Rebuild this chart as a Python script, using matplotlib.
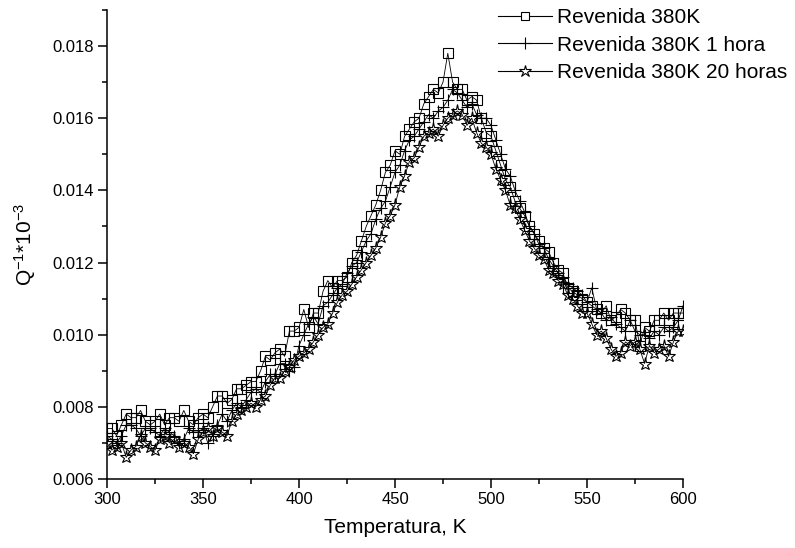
import matplotlib
matplotlib.use("Agg")
import matplotlib.pyplot as plt
from matplotlib.ticker import MultipleLocator, FormatStrFormatter
from matplotlib.lines import Line2D

plt.rcParams['font.family'] = ['Liberation Sans', 'DejaVu Sans']
plt.rcParams['mathtext.fontset'] = 'custom'
plt.rcParams['mathtext.rm'] = 'Liberation Sans'

temperature = [300, 302.5, 305, 307.5, 310, 312.5, 315, 317.5, 320, 322.5, 325, 327.5,
               330, 332.5, 335, 337.5, 340, 342.5, 345, 347.5, 350, 352.5, 355, 357.5,
               360, 362.5, 365, 367.5, 370, 372.5, 375, 377.5, 380, 382.5, 385, 387.5,
               390, 392.5, 395, 397.5, 400, 402.5, 405, 407.5, 410, 412.5, 415, 417.5,
               420, 422.5, 425, 427.5, 430, 432.5, 435, 437.5, 440, 442.5, 445, 447.5,
               450, 452.5, 455, 457.5, 460, 462.5, 465, 467.5, 470, 472.5, 475, 477.5,
               480, 482.5, 485, 487.5, 490, 492.5, 495, 497.5, 500, 502.5, 505, 507.5,
               510, 512.5, 515, 517.5, 520, 522.5, 525, 527.5, 530, 532.5, 535, 537.5,
               540, 542.5, 545, 547.5, 550, 552.5, 555, 557.5, 560, 562.5, 565, 567.5,
               570, 572.5, 575, 577.5, 580, 582.5, 585, 587.5, 590, 592.5, 595, 597.5, 600]

revenida_380K = [0.0074, 0.0074, 0.0072, 0.0075, 0.0078, 0.0077, 0.0077, 0.0079, 0.0076, 0.0075,
                 0.0076, 0.0078, 0.0075, 0.0077, 0.0077, 0.0076, 0.0079, 0.0076, 0.0075, 0.0077,
                 0.0078, 0.0077, 0.0080, 0.0083, 0.0083, 0.0081, 0.0082, 0.0085, 0.0085, 0.0086,
                 0.0087, 0.0087, 0.0090, 0.0094, 0.0093, 0.0095, 0.0096, 0.0094, 0.0101, 0.0101,
                 0.0102, 0.0107, 0.0102, 0.0106, 0.0106, 0.0112, 0.0115, 0.0113, 0.0115, 0.0115,
                 0.0116, 0.0120, 0.0122, 0.0126, 0.0130, 0.0133, 0.0136, 0.0140, 0.0145, 0.0147,
                 0.0151, 0.0150, 0.0155, 0.0157, 0.0159, 0.0160, 0.0164, 0.0166, 0.0168, 0.0167,
                 0.0170, 0.0178, 0.0170, 0.0168, 0.0168, 0.0165, 0.0166, 0.0165, 0.0160, 0.0156,
                 0.0155, 0.0151, 0.0147, 0.0143, 0.0141, 0.0137, 0.0135, 0.0133, 0.0130, 0.0128,
                 0.0126, 0.0124, 0.0123, 0.0120, 0.0118, 0.0117, 0.0113, 0.0112, 0.0111, 0.0110,
                 0.0109, 0.0108, 0.0107, 0.0106, 0.0108, 0.0104, 0.0105, 0.0107, 0.0106, 0.0104,
                 0.0104, 0.0097, 0.0102, 0.0101, 0.0104, 0.0104, 0.0106, 0.0104, 0.0106, 0.0106,
                 0.0106]

revenida_380K_1h = [0.0072, 0.0071, 0.0070, 0.0072, 0.0075, 0.0075, 0.0074, 0.0072, 0.0074, 0.0074,
                    0.0073, 0.0072, 0.0074, 0.0073, 0.0072, 0.0070, 0.0071, 0.0074, 0.0073, 0.0073,
                    0.0074, 0.0070, 0.0072, 0.0075, 0.0078, 0.0076, 0.0079, 0.0081, 0.0080, 0.0082,
                    0.0084, 0.0085, 0.0084, 0.0087, 0.0089, 0.0089, 0.0092, 0.0092, 0.0090, 0.0091,
                    0.0097, 0.0100, 0.0103, 0.0105, 0.0103, 0.0108, 0.0109, 0.0111, 0.0113, 0.0114,
                    0.0117, 0.0119, 0.0120, 0.0123, 0.0126, 0.0128, 0.0132, 0.0135, 0.0137, 0.0141,
                    0.0145, 0.0147, 0.0151, 0.0154, 0.0155, 0.0157, 0.0159, 0.0161, 0.0160, 0.0162,
                    0.0163, 0.0165, 0.0168, 0.0167, 0.0165, 0.0163, 0.0164, 0.0161, 0.0160, 0.0160,
                    0.0158, 0.0154, 0.0150, 0.0146, 0.0144, 0.0140, 0.0137, 0.0134, 0.0130, 0.0128,
                    0.0125, 0.0124, 0.0121, 0.0119, 0.0117, 0.0116, 0.0114, 0.0113, 0.0112, 0.0111,
                    0.0109, 0.0113, 0.0107, 0.0106, 0.0104, 0.0105, 0.0103, 0.0102, 0.0101, 0.0104,
                    0.0101, 0.0100, 0.0100, 0.0099, 0.0101, 0.0100, 0.0102, 0.0101, 0.0102, 0.0104,
                    0.0108]

revenida_380K_20h = [0.0070, 0.0068, 0.0069, 0.0070, 0.0066, 0.0068, 0.0069, 0.0072, 0.0070, 0.0069,
                     0.0068, 0.0071, 0.0072, 0.0070, 0.0071, 0.0069, 0.0070, 0.0069, 0.0067, 0.0071,
                     0.0073, 0.0074, 0.0072, 0.0074, 0.0073, 0.0072, 0.0076, 0.0078, 0.0079, 0.0080,
                     0.0081, 0.0080, 0.0082, 0.0083, 0.0086, 0.0088, 0.0088, 0.0090, 0.0091, 0.0093,
                     0.0094, 0.0095, 0.0096, 0.0098, 0.0100, 0.0102, 0.0103, 0.0106, 0.0109, 0.0111,
                     0.0112, 0.0114, 0.0116, 0.0118, 0.0120, 0.0122, 0.0124, 0.0127, 0.0131, 0.0133,
                     0.0136, 0.0141, 0.0144, 0.0148, 0.0149, 0.0152, 0.0155, 0.0156, 0.0157, 0.0155,
                     0.0158, 0.0160, 0.0161, 0.0162, 0.0161, 0.0158, 0.0160, 0.0156, 0.0153, 0.0152,
                     0.0150, 0.0146, 0.0143, 0.0140, 0.0136, 0.0135, 0.0132, 0.0129, 0.0126, 0.0124,
                     0.0122, 0.0121, 0.0118, 0.0117, 0.0115, 0.0114, 0.0111, 0.0110, 0.0108, 0.0106,
                     0.0106, 0.0103, 0.0100, 0.0101, 0.0099, 0.0096, 0.0094, 0.0095, 0.0098, 0.0097,
                     0.0098, 0.0096, 0.0092, 0.0097, 0.0095, 0.0096, 0.0097, 0.0094, 0.0098, 0.0101,
                     0.0101]

labels = ["Revenida 380K", "Revenida 380K 1 hora", "Revenida 380K 20 horas"]
markers = ['s', '+', '*']
sizes = [6.5, 9, 9.5]

fig = plt.figure(figsize=(7.95, 5.48), dpi=100)
ax = fig.add_axes([107 / 795, 1 - 479 / 548, (683 - 107) / 795, (479 - 10) / 548])

for series, mk, ms in zip([revenida_380K, revenida_380K_1h, revenida_380K_20h], markers, sizes):
    ax.plot(temperature, series, color='black', lw=0.6, marker=mk, ms=ms,
            mfc='none', mec='black', mew=0.8)

ax.set_xlim(300, 600)
ax.set_ylim(0.006, 0.019)
ax.xaxis.set_major_locator(MultipleLocator(50))
ax.xaxis.set_minor_locator(MultipleLocator(25))
ax.yaxis.set_major_locator(MultipleLocator(0.002))
ax.yaxis.set_minor_locator(MultipleLocator(0.001))
ax.yaxis.set_major_formatter(FormatStrFormatter('%.3f'))

for s in ['top', 'right']:
    ax.spines[s].set_visible(False)
for s in ['left', 'bottom']:
    ax.spines[s].set_linewidth(1.1)

ax.tick_params(which='major', direction='out', length=6.5, width=1.1, labelsize=12, pad=3)
ax.tick_params(which='minor', direction='out', length=3.6, width=1.1)

ax.set_xlabel("Temperatura, K", fontsize=15, labelpad=8)
ax.set_ylabel(r"Q$\mathregular{^{-1}}$*10$\mathregular{^{-3}}$", fontsize=15, labelpad=10)

handles = [Line2D([], [], color='black', lw=0.8, marker=mk, ms=ms * 0.95,
                  mfc='white', mec='black', mew=0.8)
           for mk, ms in zip(markers, sizes)]
fig.legend(handles, labels, loc='upper left', bbox_to_anchor=(498 / 795, 1 - 8 / 548),
           frameon=False, fontsize=15, handlelength=2.6, handletextpad=0.25,
           labelspacing=0.42, borderpad=0, borderaxespad=0)

fig.savefig("out.png", dpi=100)
